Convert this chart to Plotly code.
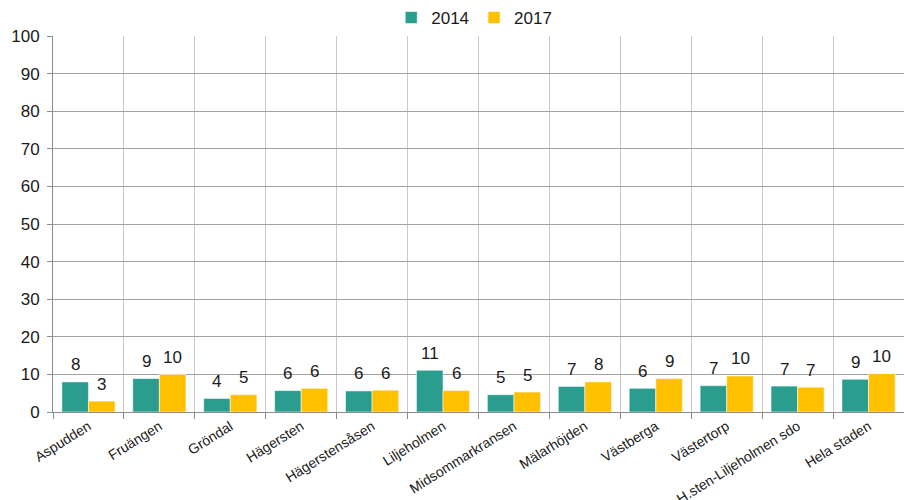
import plotly.graph_objects as go

# Districts of Hägersten-Liljeholmen and the city-wide figure
categories = [
    "Aspudden", "Fruängen", "Gröndal", "Hägersten", "Hägerstensåsen",
    "Liljeholmen", "Midsommarkransen", "Mälarhöjden", "Västberga",
    "Västertorp", "H.sten-Liljeholmen sdo", "Hela staden",
]
values_2014 = [8.0, 8.9, 3.6, 5.7, 5.6, 11.1, 4.6, 6.8, 6.3, 7.0, 6.9, 8.7]
values_2017 = [2.9, 10.0, 4.6, 6.3, 5.8, 5.7, 5.3, 8.0, 8.9, 9.6, 6.6, 10.2]
series_names = ["2014", "2017"]

colors = ["#2A9D8F", "#FFC000"]
font_family = "Liberation Sans, Arial, sans-serif"
text_color = "#1a1a1a"

fig = go.Figure()
for name, vals, col in zip(series_names, [values_2014, values_2017], colors):
    fig.add_trace(go.Bar(
        name=name, x=categories, y=vals,
        marker=dict(color=col, line=dict(color="rgba(255,255,255,0.55)", width=1)),
    ))

width, height = 904, 500
margin = dict(l=53, r=0, t=32, b=88)
bargap = 0.25

# value labels above each bar, shifted to the bar's slot within its group
cat_px = (width - margin["l"] - margin["r"]) / len(categories)
half_bar = cat_px * (1 - bargap) / 4
annotations = []
for si, vals in enumerate([values_2014, values_2017]):
    shift = -half_bar if si == 0 else half_bar
    for c, v in zip(categories, vals):
        annotations.append(dict(
            x=c, y=v, xref="x", yref="y", text=f"{v:.0f}", showarrow=False,
            xshift=shift, yshift=17, yanchor="middle",
            font=dict(family=font_family, size=17, color=text_color),
        ))

fig.update_layout(
    width=width, height=height, margin=margin,
    paper_bgcolor="white", plot_bgcolor="white",
    barmode="group", bargap=bargap, bargroupgap=0,
    font=dict(family=font_family, size=16, color=text_color),
    legend=dict(orientation="h", x=0.495, xanchor="center", y=1.0, yanchor="bottom",
                font=dict(size=17), itemwidth=30, tracegroupgap=0,
                bgcolor="rgba(0,0,0,0)"),
    annotations=annotations,
)
fig.update_yaxes(
    range=[0, 100], dtick=10, showgrid=True, gridcolor="#a0a0a0", gridwidth=1,
    showline=True, linecolor="#8c8c8c", linewidth=1,
    ticks="outside", ticklen=5, tickcolor="#8c8c8c", ticklabelstandoff=4,
    tickfont=dict(size=17, color=text_color), zeroline=False, automargin=False,
)
fig.update_xaxes(
    range=[-0.5, len(categories) - 0.5], tickson="boundaries",
    showgrid=True, gridcolor="#c8c8c8", gridwidth=1,
    showline=True, linecolor="#8c8c8c", linewidth=1,
    ticks="outside", ticklen=6, tickcolor="#8c8c8c",
    tickangle=-32, tickfont=dict(size=14, color=text_color), automargin=False,
)

fig.write_html("out.html")
